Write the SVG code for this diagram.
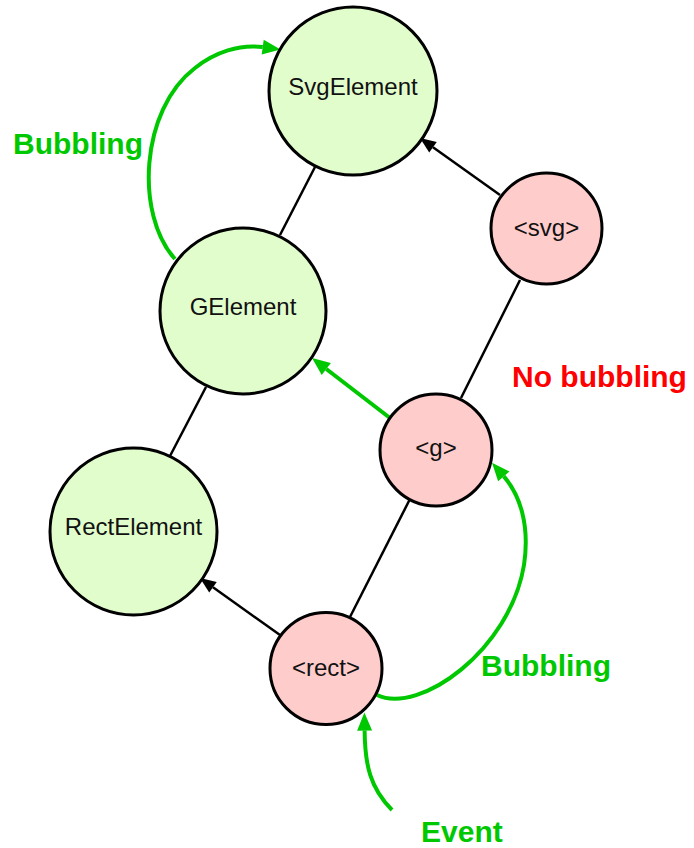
<svg xmlns="http://www.w3.org/2000/svg" width="694" height="848" viewBox="0 0 694 848">
<style>
.green{fill:#e2fdcc;stroke:#000;stroke-width:3}
.pink{fill:#ffcccc;stroke:#000;stroke-width:3}
.nt{font-family:"Liberation Sans",Arial,sans-serif;font-size:24px;fill:#111;text-anchor:middle}
.lbl{font-family:"Liberation Sans",Arial,sans-serif;font-size:30px;font-weight:bold;text-anchor:start}
.blk{stroke:#000;stroke-width:2.5;fill:none}
.grn{stroke:#00c800;stroke-width:4;fill:none}
</style>
<defs>
<marker id="ab" markerUnits="userSpaceOnUse" markerWidth="20" markerHeight="16" viewBox="0 -8 18 16" refX="0" refY="0" orient="auto">
<path d="M0,-6.5 L16,0 L0,6.5 z" fill="#000"/>
</marker>
<marker id="ag" markerUnits="userSpaceOnUse" markerWidth="22" markerHeight="18" viewBox="0 -9 20 18" refX="0" refY="0" orient="auto">
<path d="M0,-7.5 L18,0 L0,7.5 z" fill="#00c800"/>
</marker>
</defs>
<g id="connectors">
<line class="blk" x1="315" y1="167" x2="280" y2="235"/>
<line class="blk" x1="206" y1="387" x2="170" y2="456"/>
<line class="blk" x1="520" y1="280" x2="461" y2="398"/>
<line class="blk" x1="411" y1="497" x2="350" y2="617"/>
<path class="blk" d="M500,195 L433,147.3" marker-end="url(#ab)"/>
<path class="blk" d="M280,635 L213,587.3" marker-end="url(#ab)"/>
<path class="grn" d="M390,418 L326.3,369" marker-end="url(#ag)"/>
<path class="grn" d="M175,259 C135,215 140,110 195,68 C215,52 240,44 262.7,47.1" marker-end="url(#ag)"/>
<path class="grn" d="M377,695 C420,715 510,650 524,565 C530,525 520,495 503.8,476.4" marker-end="url(#ag)"/>
<path class="grn" d="M392,810 C370,788 365,765 364.6,730.6" marker-end="url(#ag)"/>
</g>
<g id="SvgElement"><circle class="green" cx="353" cy="91" r="84"/><text class="nt" x="353" y="95">SvgElement</text></g>
<g id="GElement"><circle class="green" cx="243" cy="311" r="83"/><text class="nt" x="243" y="315">GElement</text></g>
<g id="RectElement"><circle class="green" cx="133.5" cy="531.5" r="83.5"/><text class="nt" x="133.5" y="535">RectElement</text></g>
<g id="svg"><circle class="pink" cx="546.5" cy="228.5" r="55.5"/><text class="nt" x="546.5" y="235.5">&lt;svg&gt;</text></g>
<g id="g"><circle class="pink" cx="436" cy="450" r="56"/><text class="nt" x="436" y="456">&lt;g&gt;</text></g>
<g id="rect"><circle class="pink" cx="326" cy="668.5" r="56"/><text class="nt" x="326" y="675.5">&lt;rect&gt;</text></g>
<g id="labels">
<text class="lbl" x="13" y="154" fill="#00c800">Bubbling</text>
<text class="lbl" x="512" y="387" fill="#ff0000">No bubbling</text>
<text class="lbl" x="481" y="676" fill="#00c800">Bubbling</text>
<text class="lbl" x="421" y="842" fill="#00c800">Event</text>
</g>
</svg>
